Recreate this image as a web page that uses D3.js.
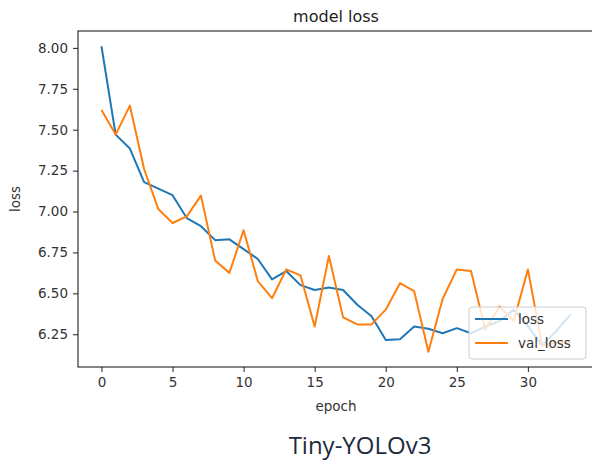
<!DOCTYPE html>
<html>
<head>
<meta charset="utf-8">
<script src="https://cdn.jsdelivr.net/npm/d3@7"></script>
<style>
  body { margin: 0; background: #fff; }
  text { font-family: "DejaVu Sans", sans-serif; fill: #222; }
</style>
</head>
<body>
<svg id="chart" width="592" height="461"></svg>
<script>
// epochs and the two series
var epochs = d3.range(0, 34);
var loss = [8.01, 7.47, 7.385, 7.18, 7.14, 7.10, 6.96, 6.91, 6.825, 6.83,
  6.77, 6.71, 6.585, 6.636, 6.55, 6.52, 6.535, 6.52, 6.43, 6.36,
  6.215, 6.22, 6.297, 6.283, 6.256, 6.287, 6.256, 6.297, 6.33, 6.40,
  6.30, 6.18, 6.27, 6.37];
var valLoss = [7.62, 7.47, 7.647, 7.26, 7.015, 6.93, 6.97, 7.097, 6.70, 6.625,
  6.886, 6.574, 6.47, 6.646, 6.61, 6.297, 6.728, 6.353, 6.31, 6.31,
  6.40, 6.562, 6.513, 6.143, 6.465, 6.646, 6.636, 6.277, 6.42, 6.33,
  6.646, 6.18, 6.20, 6.20];
var xTicks = [0, 5, 10, 15, 20, 25, 30];
var yTicks = [6.25, 6.50, 6.75, 7.00, 7.25, 7.50, 7.75, 8.00];
var seriesNames = ["loss", "val_loss"];
var seriesColors = ["#1f77b4", "#ff7f0e"];

var margin = { top: 31, right: -2, bottom: 94, left: 78 },
  width = 592 - margin.left - margin.right,
  height = 461 - margin.top - margin.bottom;

var svg = d3.select("#chart");
var g = svg.append("g")
  .attr("transform", "translate(" + margin.left + "," + margin.top + ")");

// matplotlib style 5% padding on both axes
var xExt = d3.extent(epochs), xPad = (xExt[1] - xExt[0]) * 0.05;
var allY = loss.concat(valLoss);
var yExt = d3.extent(allY), yPad = (yExt[1] - yExt[0]) * 0.05;

var x = d3.scaleLinear().domain([xExt[0] - xPad, xExt[1] + xPad]).range([0, width]);
var y = d3.scaleLinear().domain([yExt[0] - yPad, yExt[1] + yPad]).range([height, 0]);

var line = d3.line()
  .x(function (d, i) { return x(epochs[i]); })
  .y(function (d) { return y(d); });

[loss, valLoss].forEach(function (s, k) {
  g.append("path")
    .datum(s)
    .attr("fill", "none")
    .attr("stroke", seriesColors[k])
    .attr("stroke-width", 2)
    .attr("stroke-linejoin", "round")
    .attr("d", line);
});

// axes
var xAxis = g.append("g")
  .attr("transform", "translate(0," + height + ")")
  .call(d3.axisBottom(x).tickValues(xTicks).tickSize(5).tickPadding(5).tickFormat(d3.format("d")));
var yAxis = g.append("g")
  .call(d3.axisLeft(y).tickValues(yTicks).tickSize(5).tickPadding(5).tickFormat(d3.format(".2f")));

[xAxis, yAxis].forEach(function (a) {
  a.select(".domain").remove();
  a.selectAll("line").attr("stroke", "#333").attr("stroke-width", 1.1);
  a.selectAll("text").style("font-size", "13.5px").style("fill", "#333").attr("font-family", null);
});

// frame
g.append("rect")
  .attr("x", 0).attr("y", 0)
  .attr("width", width).attr("height", height)
  .attr("fill", "none")
  .attr("stroke", "#222")
  .attr("stroke-width", 1.1);

// title and labels
g.append("text")
  .attr("x", width / 2).attr("y", -9)
  .attr("text-anchor", "middle")
  .style("font-size", "16px")
  .text("model loss");

g.append("text")
  .attr("x", width / 2).attr("y", height + 44)
  .attr("text-anchor", "middle")
  .style("font-size", "13.5px")
  .style("fill", "#333")
  .text("epoch");

g.append("text")
  .attr("transform", "translate(-58," + height / 2 + ") rotate(-90)")
  .attr("text-anchor", "middle")
  .style("font-size", "13.5px")
  .style("fill", "#333")
  .text("loss");

// legend, lower right
var legend = g.append("g")
  .attr("transform", "translate(" + (391) + "," + (276) + ")");
legend.append("rect")
  .attr("width", 117).attr("height", 52)
  .attr("rx", 3)
  .attr("fill", "#fff").attr("fill-opacity", 0.8)
  .attr("stroke", "#ccc").attr("stroke-width", 1);
seriesNames.forEach(function (name, i) {
  var ly = 12 + i * 24;
  legend.append("line")
    .attr("x1", 6).attr("x2", 39)
    .attr("y1", ly).attr("y2", ly)
    .attr("stroke", seriesColors[i]).attr("stroke-width", 2);
  legend.append("text")
    .attr("x", 49).attr("y", ly + 5)
    .style("font-size", "13.5px")
    .style("fill", "#333")
    .text(name);
});

// caption under the chart
svg.append("text")
  .attr("x", 360).attr("y", 454)
  .attr("text-anchor", "middle")
  .style("font-family", "'Open Sans', 'Noto Sans', sans-serif")
  .style("font-size", "24px")
  .style("fill", "#1e2b3c")
  .text("Tiny-YOLOv3");
</script>
</body>
</html>
